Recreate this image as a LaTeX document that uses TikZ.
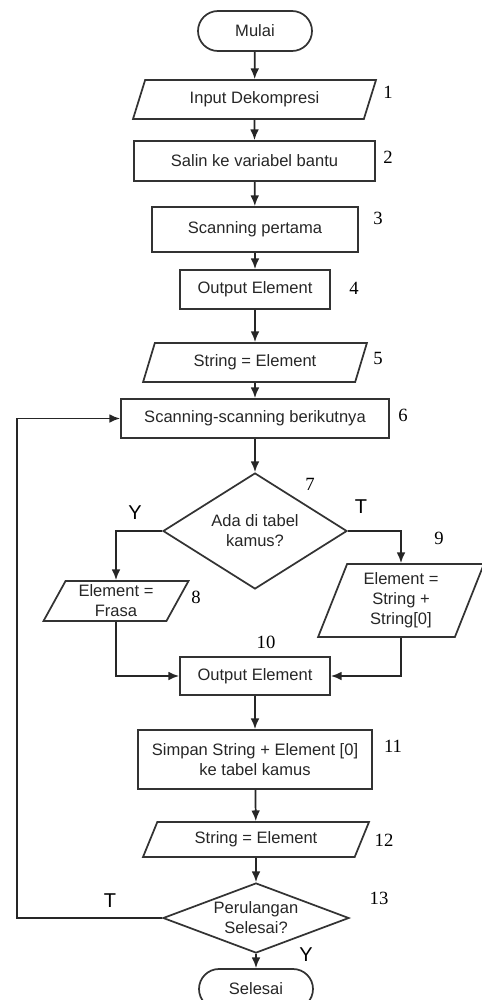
\documentclass[tikz,border=0pt]{standalone}
\usepackage{fontspec}
\setmainfont{Liberation Serif}
\newfontfamily\boxfont{Liberation Sans}
\usetikzlibrary{shapes.geometric,shapes.misc,arrows.meta}

\begin{document}
\begin{tikzpicture}[x=0.75pt,y=-0.75pt,
    every node/.style={font=\boxfont\fontsize{12.4}{15}\selectfont,text=black!85,align=center,inner sep=0pt},
    proc/.style={rectangle,draw=black!80,line width=1.3pt},
    term/.style={rounded rectangle,draw=black!80,line width=1.3pt,minimum width=85.5pt,minimum height=30pt},
    iobox/.style={trapezium,trapezium stretches=true,trapezium left angle=#1,trapezium right angle=180-#1,draw=black!80,line width=1.3pt},
    cond/.style={diamond,draw=black!80,line width=1.3pt,shape aspect=#1},
    num/.style={font=\rmfamily\fontsize{14}{16}\selectfont,text=black},
    yt/.style={font=\boxfont\fontsize{15}{17}\selectfont,text=black},
    flow/.style={draw=black!85,line width=1.3pt,-{Latex[length=8pt,width=6.5pt]}}]
    \useasboundingbox (0,0) rectangle (482,1000);

    \node[term] (mulai) at (255,31) {Mulai};
    \node[iobox=65,minimum width=182.25pt,minimum height=29.25pt] (input) at (254.5,99.5) {Input Dekompresi};
    \node[proc,minimum width=180.75pt,minimum height=30pt] (salin) at (254.5,161) {Salin ke variabel bantu};
    \node[proc,minimum width=154.5pt,minimum height=33.75pt] (scanA) at (255,229.5) {Scanning pertama};
    \node[proc,minimum width=112.5pt,minimum height=29.25pt] (outA) at (255,289.5) {Output Element};
    \node[iobox=65,minimum width=168pt,minimum height=29.25pt] (strA) at (255,362.5) {String = Element};
    \node[proc,minimum width=201pt,minimum height=29.25pt] (scanB) at (255,418.5) {Scanning-scanning berikutnya};
    \node[cond=1.59,minimum width=138pt,minimum height=87pt] (ada) at (255,531) {Ada di tabel\\kamus?};
    \node[iobox=63,minimum width=109.5pt,minimum height=30pt] (frasa) at (116,601) {Element =\\Frasa};
    \node[iobox=70,minimum width=125.25pt,minimum height=54.75pt] (elstr) at (401,600.5) {Element =\\String +\\String[0]};
    \node[proc,minimum width=112.5pt,minimum height=28.5pt] (outB) at (255,676) {Output Element};
    \node[proc,minimum width=175.5pt,minimum height=44.25pt] (simpan) at (255,759.5) {Simpan String + Element [0]\\ke tabel kamus};
    \node[iobox=60,minimum width=169.5pt,minimum height=26.25pt] (strB) at (256,839.5) {String = Element};
    \node[cond=2.66,minimum width=139.5pt,minimum height=52.5pt] (ulang) at (256,918) {Perulangan\\Selesai?};
    \node[term] (selesai) at (256,989) {Selesai};
    \coordinate (back) at (17,918);

    % nomor langkah
    \node[num] (n1) at (388,92) {1};
    \node[num] (n2) at (388,157) {2};
    \node[num] (n3) at (378,218) {3};
    \node[num] (n4) at (354,288) {4};
    \node[num] (n5) at (378,358) {5};
    \node[num] (n6) at (403,415) {6};
    \node[num] (n7) at (310,484) {7};
    \node[num] (n8) at (196,597) {8};
    \node[num] (n9) at (439,538) {9};
    \node[num] (n10) at (266,642) {10};
    \node[num] (n11) at (393,746) {11};
    \node[num] (n12) at (384,840) {12};
    \node[num] (n13) at (379,898) {13};

    \node[yt] (yA) at (135,513) {Y};
    \node[yt] (tA) at (361,507) {T};
    \node[yt] (tB) at (110,901) {T};
    \node[yt] (yB) at (306,955) {Y};

    \draw[flow] (mulai) -- (input);
    \draw[flow] (input) -- (salin);
    \draw[flow] (salin) -- (scanA);
    \draw[flow] (scanA) -- (outA);
    \draw[flow] (outA) -- (strA);
    \draw[flow] (strA) -- (scanB);
    \draw[flow] (scanB) -- (ada);
    \draw[flow] (ada.west) -| (frasa.north);
    \draw[flow] (ada.east) -| (elstr.north);
    \draw[flow] (frasa.south) |- (outB.west);
    \draw[flow] (elstr.south) |- (outB.east);
    \draw[flow] (outB) -- (simpan);
    \draw[flow] (simpan) -- (strB);
    \draw[flow] (strB) -- (ulang);
    \draw[flow] (ulang) -- (selesai);
    \draw[flow] (ulang.west) -- (back) |- (scanB.west);

\end{tikzpicture}
\end{document}
